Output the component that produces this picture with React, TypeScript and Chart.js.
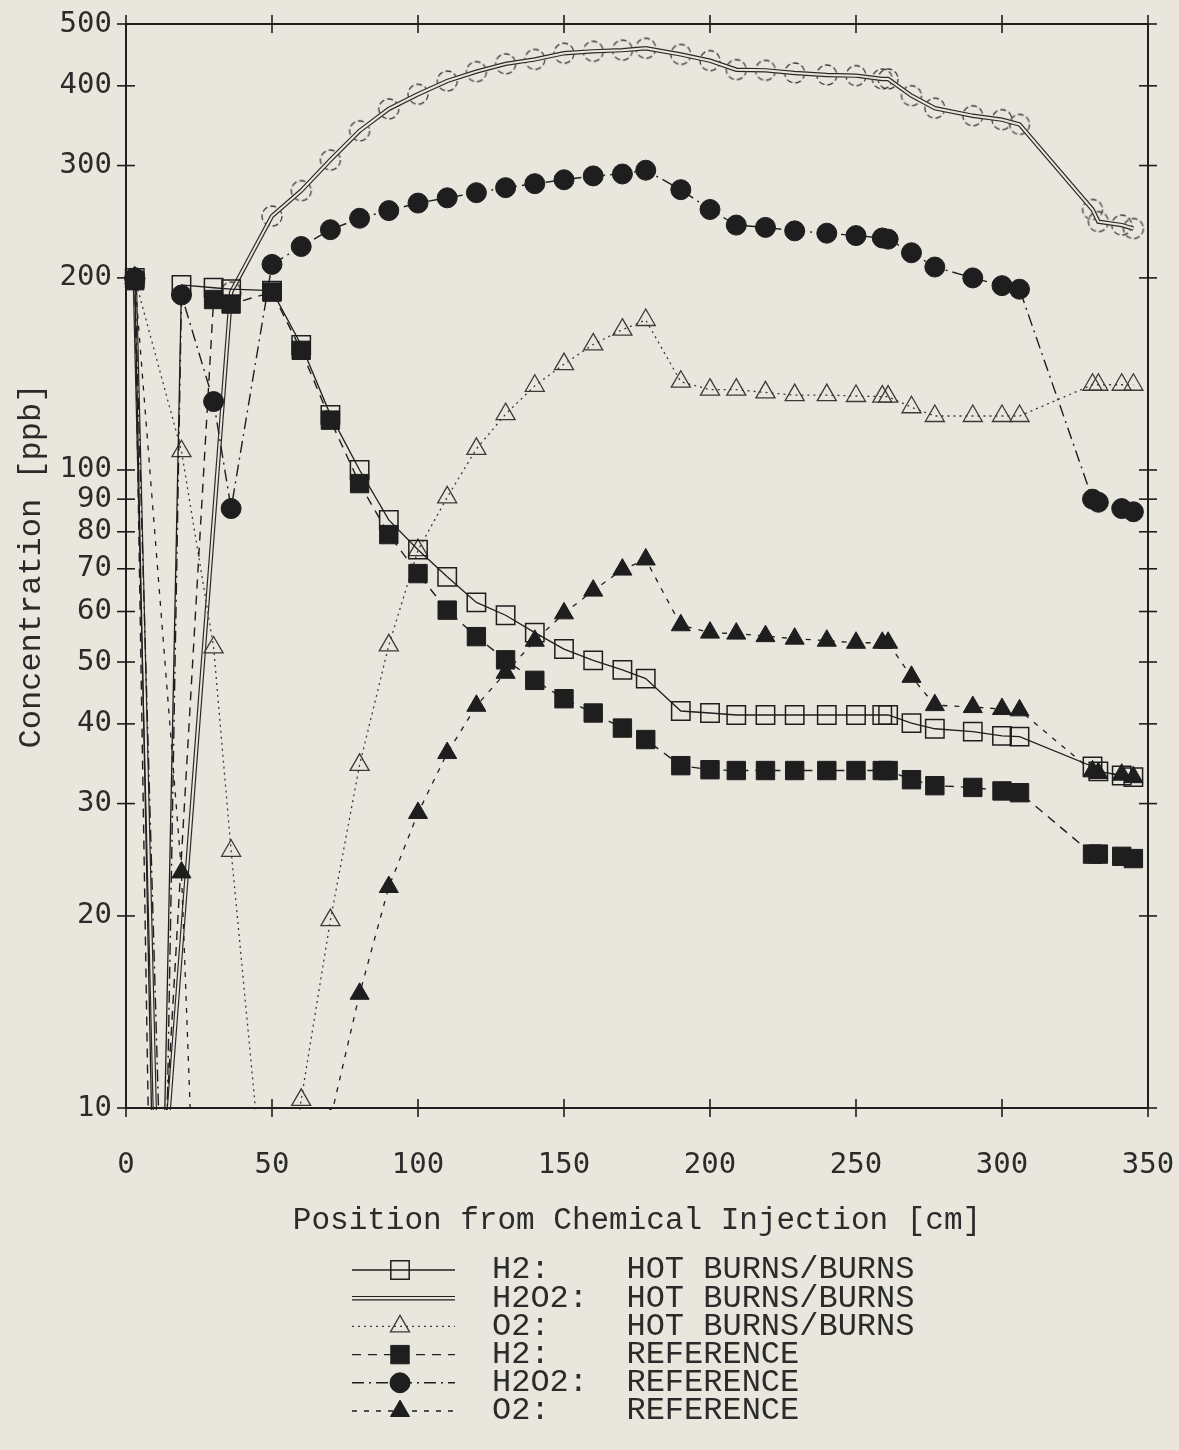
import React, { useEffect, useRef } from 'react';
import { Chart, registerables } from 'chart.js';

Chart.register(...registerables);

// ---------- data ----------
const POSITIONS = [3, 9, 11, 13, 19, 30, 36, 50, 60, 70, 80, 90, 100, 110, 120, 130, 140, 150, 160, 170, 178, 190, 200, 209, 219, 229, 240, 250, 259, 261, 269, 277, 290, 300, 306, 331, 333, 341, 345];

const H2_HOT = [200, null, 3, null, 195, 193, 192, 191, 157, 122, 100, 83.5, 75, 68, 62, 59.2, 55.6, 52.4, 50.3, 48.6, 47.1, 41.9, 41.6, 41.3, 41.3, 41.3, 41.3, 41.3, 41.3, 41.3, 40.1, 39.3, 38.9, 38.3, 38.2, 34.3, 33.7, 33.2, 33.0];
const H2O2_HOT = [200, null, 6, null, null, null, 190, 250, 274, 306, 340, 368, 388, 407, 421, 433, 440, 450, 453, 455, 458, 448, 438, 424, 423, 419, 416, 415, 410, 410, 386, 369, 359, 354, 348, 256, 245, 242, 239];
const O2_HOT = [200, null, null, null, 107, 52.7, 25.3, 5.3, 10.3, 19.7, 34.5, 53.1, 74.9, 90.6, 107.9, 122.3, 135.5, 146.5, 157.3, 165.9, 171.8, 137.5, 133.6, 133.6, 132.3, 131, 131, 130.6, 130.3, 130.3, 125.4, 121.5, 121.5, 121.5, 121.5, 136, 136, 136, 136];
const H2_REF = [198, 4, null, null, null, 185, 182, 190, 154, 119.7, 95.2, 79.2, 68.8, 60.3, 54.8, 50.4, 46.8, 43.8, 41.6, 39.4, 37.8, 34.4, 33.9, 33.8, 33.8, 33.8, 33.8, 33.8, 33.8, 33.8, 32.7, 32.0, 31.8, 31.4, 31.2, 25.0, 25.0, 24.8, 24.6];
const H2O2_REF = [200, null, null, 5, 188, 128, 87, 210, 224, 238, 248, 255, 262, 267, 272, 277, 281, 285, 289, 291, 295, 275, 256, 242, 240, 237, 235, 233, 231, 230, 219, 208, 200, 194.5, 192, 90, 89, 87, 86];
const O2_REF = [200, null, null, null, 23.4, 1, null, null, null, 9.6, 15.1, 22.2, 29.0, 36.0, 42.7, 48.1, 54.0, 59.6, 64.7, 69.8, 72.4, 57.1, 55.6, 55.4, 54.9, 54.4, 54.0, 53.6, 53.6, 53.6, 47.4, 42.8, 42.5, 42.2, 42.0, 33.7, 33.5, 33.3, 33.0];

const Y_TICKS = [10, 20, 30, 40, 50, 60, 70, 80, 90, 100, 200, 300, 400, 500];
const X_TICKS = [0, 50, 100, 150, 200, 250, 300, 350];

const LEGEND_NAMES = ['H2:', 'H2O2:', 'O2:', 'H2:', 'H2O2:', 'O2:'];
const LEGEND_GROUPS = ['HOT BURNS/BURNS', 'HOT BURNS/BURNS', 'HOT BURNS/BURNS', 'REFERENCE', 'REFERENCE', 'REFERENCE'];

const X_TITLE = 'Position from Chemical Injection [cm]';
const Y_TITLE = 'Concentration [ppb]';

// ---------- styles ----------
const BG = '#e8e6dd';
const INK = '#1e1e1e';
const TEXT = '#2b2b2b';
const NONE = 'rgba(0,0,0,0)';
const MONO = '"Liberation Mono", "Courier New", monospace';
const SANS_MONO = '"DejaVu Sans Mono", monospace';

const pts = (arr: (number | null)[]) => POSITIONS.map((x, i) => ({ x, y: arr[i] }));

function dashedCircleImage(r: number): HTMLCanvasElement {
  const size = Math.ceil(r * 2 + 4);
  const c = document.createElement('canvas');
  c.width = size;
  c.height = size;
  const g = c.getContext('2d')!;
  g.strokeStyle = '#3c3c3c';
  g.lineWidth = 1.3;
  g.setLineDash([6, 3]);
  g.beginPath();
  g.arc(size / 2, size / 2, r, 0, Math.PI * 2);
  g.stroke();
  return c;
}

function drawMarker(ctx: CanvasRenderingContext2D, shape: string, x: number, y: number, r: number, fill: string, stroke: string, lw: number) {
  ctx.beginPath();
  if (shape === 'rect') {
    const s = r * Math.SQRT1_2;
    ctx.rect(x - s, y - s, 2 * s, 2 * s);
  } else if (shape === 'circle') {
    ctx.arc(x, y, r, 0, Math.PI * 2);
  } else {
    let rad = 0;
    ctx.moveTo(x + Math.sin(rad) * r, y - Math.cos(rad) * r);
    rad += (2 * Math.PI) / 3;
    ctx.lineTo(x + Math.sin(rad) * r, y - Math.cos(rad) * r);
    rad += (2 * Math.PI) / 3;
    ctx.lineTo(x + Math.sin(rad) * r, y - Math.cos(rad) * r);
  }
  ctx.closePath();
  if (fill !== NONE) {
    ctx.fillStyle = fill;
    ctx.fill();
  }
  ctx.setLineDash([]);
  ctx.lineWidth = lw;
  ctx.strokeStyle = stroke;
  ctx.stroke();
}

const framePlugin = {
  id: 'frameAndLegend',
  beforeDraw(chart: any) {
    const ctx = chart.ctx;
    ctx.save();
    ctx.fillStyle = BG;
    ctx.fillRect(0, 0, chart.width, chart.height);
    ctx.restore();
  },
  afterDraw(chart: any) {
    const { ctx, chartArea: a, scales } = chart;
    ctx.save();
    ctx.strokeStyle = INK;
    ctx.setLineDash([]);
    ctx.lineWidth = 2;
    ctx.strokeRect(a.left, a.top, a.right - a.left, a.bottom - a.top);
    ctx.lineWidth = 1.6;
    const T = 9;
    const seg = (x1: number, y1: number, x2: number, y2: number) => {
      ctx.beginPath();
      ctx.moveTo(x1, y1);
      ctx.lineTo(x2, y2);
      ctx.stroke();
    };
    for (const v of Y_TICKS) {
      const y = scales.y.getPixelForValue(v);
      seg(a.left - T, y, a.left + T, y);
      seg(a.right - T, y, a.right + T, y);
    }
    for (const v of X_TICKS) {
      const x = scales.x.getPixelForValue(v);
      seg(x, a.top - T, x, a.top + T);
      seg(x, a.bottom - T, x, a.bottom + T);
    }

    // legend
    const entries = chart.data.datasets
      .filter((d: any) => d.legendIndex !== undefined)
      .sort((p: any, q: any) => p.legendIndex - q.legendIndex);
    const x1 = 352, x2 = 455, xm = 400, tx = 492;
    const y0 = 1270, dy = 28.2;
    entries.forEach((d: any) => {
      const k = d.legendIndex;
      const y = y0 + k * dy;
      ctx.save();
      if (d.doubleLine) {
        ctx.setLineDash([]);
        ctx.strokeStyle = INK;
        ctx.lineWidth = 4.5;
        seg(x1, y, x2, y);
        ctx.strokeStyle = BG;
        ctx.lineWidth = 2.2;
        seg(x1 - 1, y, x2 + 1, y);
      } else {
        ctx.setLineDash(d.borderDash || []);
        ctx.strokeStyle = d.borderColor;
        ctx.lineWidth = d.borderWidth;
        seg(x1, y, x2, y);
        drawMarker(ctx, d.pointStyle, xm, y, d.pointRadius, d.pointBackgroundColor, d.pointBorderColor, d.pointBorderWidth);
      }
      ctx.restore();
      ctx.fillStyle = TEXT;
      ctx.font = `32px ${MONO}`;
      ctx.textBaseline = 'middle';
      ctx.textAlign = 'left';
      ctx.fillText(LEGEND_NAMES[k].padEnd(7, ' ') + LEGEND_GROUPS[k], tx, y);
    });
    ctx.restore();
  },
};

export default function App() {
  const ref = useRef<HTMLCanvasElement | null>(null);

  useEffect(() => {
    document.body.style.background = BG;
    const canvas = ref.current;
    if (!canvas) return;
    const common = { spanGaps: true, clip: 2, tension: 0, fill: false };
    const circleImg = dashedCircleImage(10);
    const chart = new Chart(canvas, {
      type: 'line',
      data: {
        datasets: [
          {
            ...common,
            label: 'H2: REFERENCE',
            data: pts(H2_REF),
            borderColor: INK,
            borderWidth: 1.4,
            borderDash: [9, 7],
            pointStyle: 'rect',
            pointRadius: 13,
            pointBackgroundColor: INK,
            pointBorderColor: INK,
            pointBorderWidth: 1,
            order: 1,
            legendIndex: 3,
          } as any,
          {
            ...common,
            label: 'H2O2: REFERENCE',
            data: pts(H2O2_REF),
            borderColor: INK,
            borderWidth: 1.4,
            borderDash: [12, 5, 2, 5],
            pointStyle: 'circle',
            pointRadius: 10,
            pointBackgroundColor: INK,
            pointBorderColor: INK,
            pointBorderWidth: 1,
            order: 2,
            legendIndex: 4,
          } as any,
          {
            ...common,
            label: 'O2: REFERENCE',
            data: pts(O2_REF),
            borderColor: INK,
            borderWidth: 1.3,
            borderDash: [5, 7],
            pointStyle: 'triangle',
            pointRadius: 11,
            pointBackgroundColor: INK,
            pointBorderColor: INK,
            pointBorderWidth: 1,
            order: 3,
            legendIndex: 5,
          } as any,
          {
            ...common,
            label: 'H2: HOT BURNS/BURNS',
            data: pts(H2_HOT),
            borderColor: INK,
            borderWidth: 1.3,
            pointStyle: 'rect',
            pointRadius: 13,
            pointBackgroundColor: NONE,
            pointBorderColor: INK,
            pointBorderWidth: 1.5,
            order: 4,
            legendIndex: 0,
          } as any,
          {
            ...common,
            label: 'O2: HOT BURNS/BURNS',
            data: pts(O2_HOT),
            borderColor: '#3a3a3a',
            borderWidth: 1.3,
            borderDash: [2, 4],
            pointStyle: 'triangle',
            pointRadius: 11,
            pointBackgroundColor: NONE,
            pointBorderColor: '#3a3a3a',
            pointBorderWidth: 1.3,
            order: 5,
            legendIndex: 2,
          } as any,
          {
            ...common,
            label: 'H2O2 inner',
            data: pts(H2O2_HOT),
            borderColor: BG,
            borderWidth: 2,
            pointRadius: 0,
            order: 6,
          } as any,
          {
            ...common,
            label: 'H2O2: HOT BURNS/BURNS',
            data: pts(H2O2_HOT),
            borderColor: '#2a2a2a',
            borderWidth: 4.4,
            pointStyle: circleImg,
            pointRadius: 10,
            order: 7,
            legendIndex: 1,
            doubleLine: true,
          } as any,
        ],
      },
      options: {
        responsive: false,
        devicePixelRatio: 1,
        animation: false,
        events: [],
        layout: { padding: { left: 0, right: 31, top: 24, bottom: 200 } },
        plugins: { legend: { display: false }, tooltip: { enabled: false } },
        scales: {
          x: {
            type: 'linear',
            min: 0,
            max: 350,
            afterFit: (s: any) => {
              s.height = 142;
            },
            afterBuildTicks: (s: any) => {
              s.ticks = X_TICKS.map((v) => ({ value: v }));
            },
            grid: { display: false, drawTicks: true, tickLength: 38 },
            border: { display: false },
            ticks: {
              autoSkip: false,
              maxRotation: 0,
              padding: 2,
              color: TEXT,
              font: { family: SANS_MONO, size: 29 },
              callback: (v: any) => String(v),
            },
            title: {
              display: true,
              text: X_TITLE,
              color: TEXT,
              font: { family: MONO, size: 31 },
              padding: { top: 0, bottom: 11 },
            },
          },
          y: {
            type: 'logarithmic',
            min: 10,
            max: 500,
            afterFit: (s: any) => {
              s.width = 126;
            },
            afterBuildTicks: (s: any) => {
              s.ticks = Y_TICKS.map((v) => ({ value: v }));
            },
            grid: { display: false, drawTicks: true, tickLength: 12 },
            border: { display: false },
            ticks: {
              autoSkip: false,
              padding: 2,
              color: TEXT,
              font: { family: SANS_MONO, size: 29 },
              callback: (v: any) => String(v),
            },
            title: {
              display: true,
              text: Y_TITLE,
              color: TEXT,
              font: { family: MONO, size: 32 },
              padding: { top: 12, bottom: 0 },
            },
          },
        },
      } as any,
      plugins: [framePlugin],
    });
    return () => chart.destroy();
  }, []);

  return (
    <div style={{ position: 'absolute', left: 0, top: 0, width: 1179, height: 1450, background: BG }}>
      <canvas ref={ref} width={1179} height={1450} style={{ display: 'block' }} />
    </div>
  );
}
